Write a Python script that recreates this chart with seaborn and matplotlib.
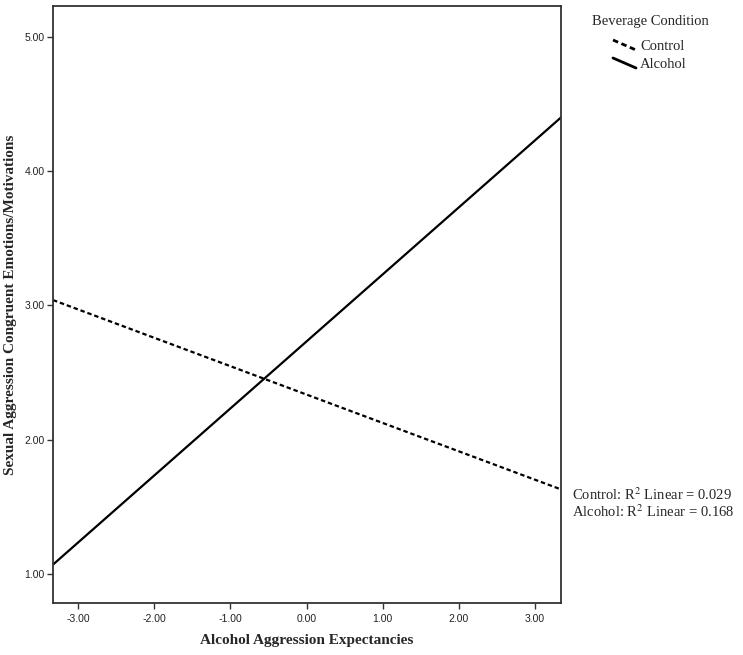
import pandas as pd
import seaborn as sns
from matplotlib import pyplot as plt
from matplotlib.lines import Line2D

# fitted line values at the ends of the x range
x_ends = [-3.33, 3.34]
control_fit = [3.04, 1.63]
alcohol_fit = [1.07, 4.40]
r2_control = 0.029
r2_alcohol = 0.168

df = pd.DataFrame({
    "x": x_ends + x_ends,
    "y": control_fit + alcohol_fit,
    "Beverage Condition": ["Control"] * 2 + ["Alcohol"] * 2,
})

sns.set_theme(style="white")
plt.rcParams['font.family'] = ['Liberation Serif', 'DejaVu Serif']
plt.rcParams['mathtext.fontset'] = 'stix'

fig = plt.figure(figsize=(7.43, 6.55), dpi=100)
ax = fig.add_axes([53 / 743, 52 / 655, (561 - 53) / 743, (603 - 6) / 655])

sns.lineplot(data=df, x="x", y="y", hue="Beverage Condition", style="Beverage Condition",
             palette={"Control": "black", "Alcohol": "black"},
             dashes={"Control": (2, 1.3), "Alcohol": ""},
             linewidth=1.6, legend=False, ax=ax)

ax.set_xlim(-3.33, 3.34)
ax.set_ylim(0.784, 5.23)
ax.set_xticks([-3, -2, -1, 0, 1, 2, 3])
ax.set_yticks([1, 2, 3, 4, 5])
ax.set_xticklabels([f"{v:.2f}" for v in ax.get_xticks()])
ax.set_yticklabels([f"{v:.2f}" for v in ax.get_yticks()])
ax.tick_params(axis="both", direction="out", length=4, width=1, color="#333333",
               labelsize=7.5, labelcolor="#222222", left=True, bottom=True, pad=2)
ax.tick_params(axis="x", pad=4)
for lab in ax.get_xticklabels() + ax.get_yticklabels():
    lab.set_family("Liberation Sans")
for s in ax.spines.values():
    s.set_color("#333333")
    s.set_linewidth(1.3)

ax.set_xlabel("Alcohol Aggression Expectancies", fontsize=11, fontweight="bold")
ax.xaxis.set_label_coords(0.5, -0.052)
ax.set_ylabel("Sexual Aggression Congruent Emotions/Motivations", fontsize=11,
              fontweight="bold")
ax.yaxis.set_label_coords(-0.071, 0.5)

# legend drawn beside the plot
fig.text(650 / 743, 1 - 22 / 655, "Beverage Condition", ha="center", va="center", fontsize=10.5)
fig.add_artist(Line2D([613 / 743, 636 / 743], [1 - 40 / 655, 1 - 50 / 655], color="black",
                      linewidth=2, linestyle=(0, (2, 1.3))))
fig.add_artist(Line2D([613 / 743, 636 / 743], [1 - 58 / 655, 1 - 68 / 655], color="black",
                      linewidth=2))
fig.text(640 / 743, 1 - 46 / 655, "Control", ha="left", va="center", fontsize=10.5)
fig.text(640 / 743, 1 - 64 / 655, "Alcohol", ha="left", va="center", fontsize=10.5)

fig.text(572 / 743, 1 - 495 / 655, f"Control: R$^{{2}}$ Linear = {r2_control:.3f}",
         ha="left", va="center", fontsize=10.5)
fig.text(572 / 743, 1 - 512 / 655, f"Alcohol: R$^{{2}}$ Linear = {r2_alcohol:.3f}",
         ha="left", va="center", fontsize=10.5)

plt.savefig("out.png", dpi=100)
